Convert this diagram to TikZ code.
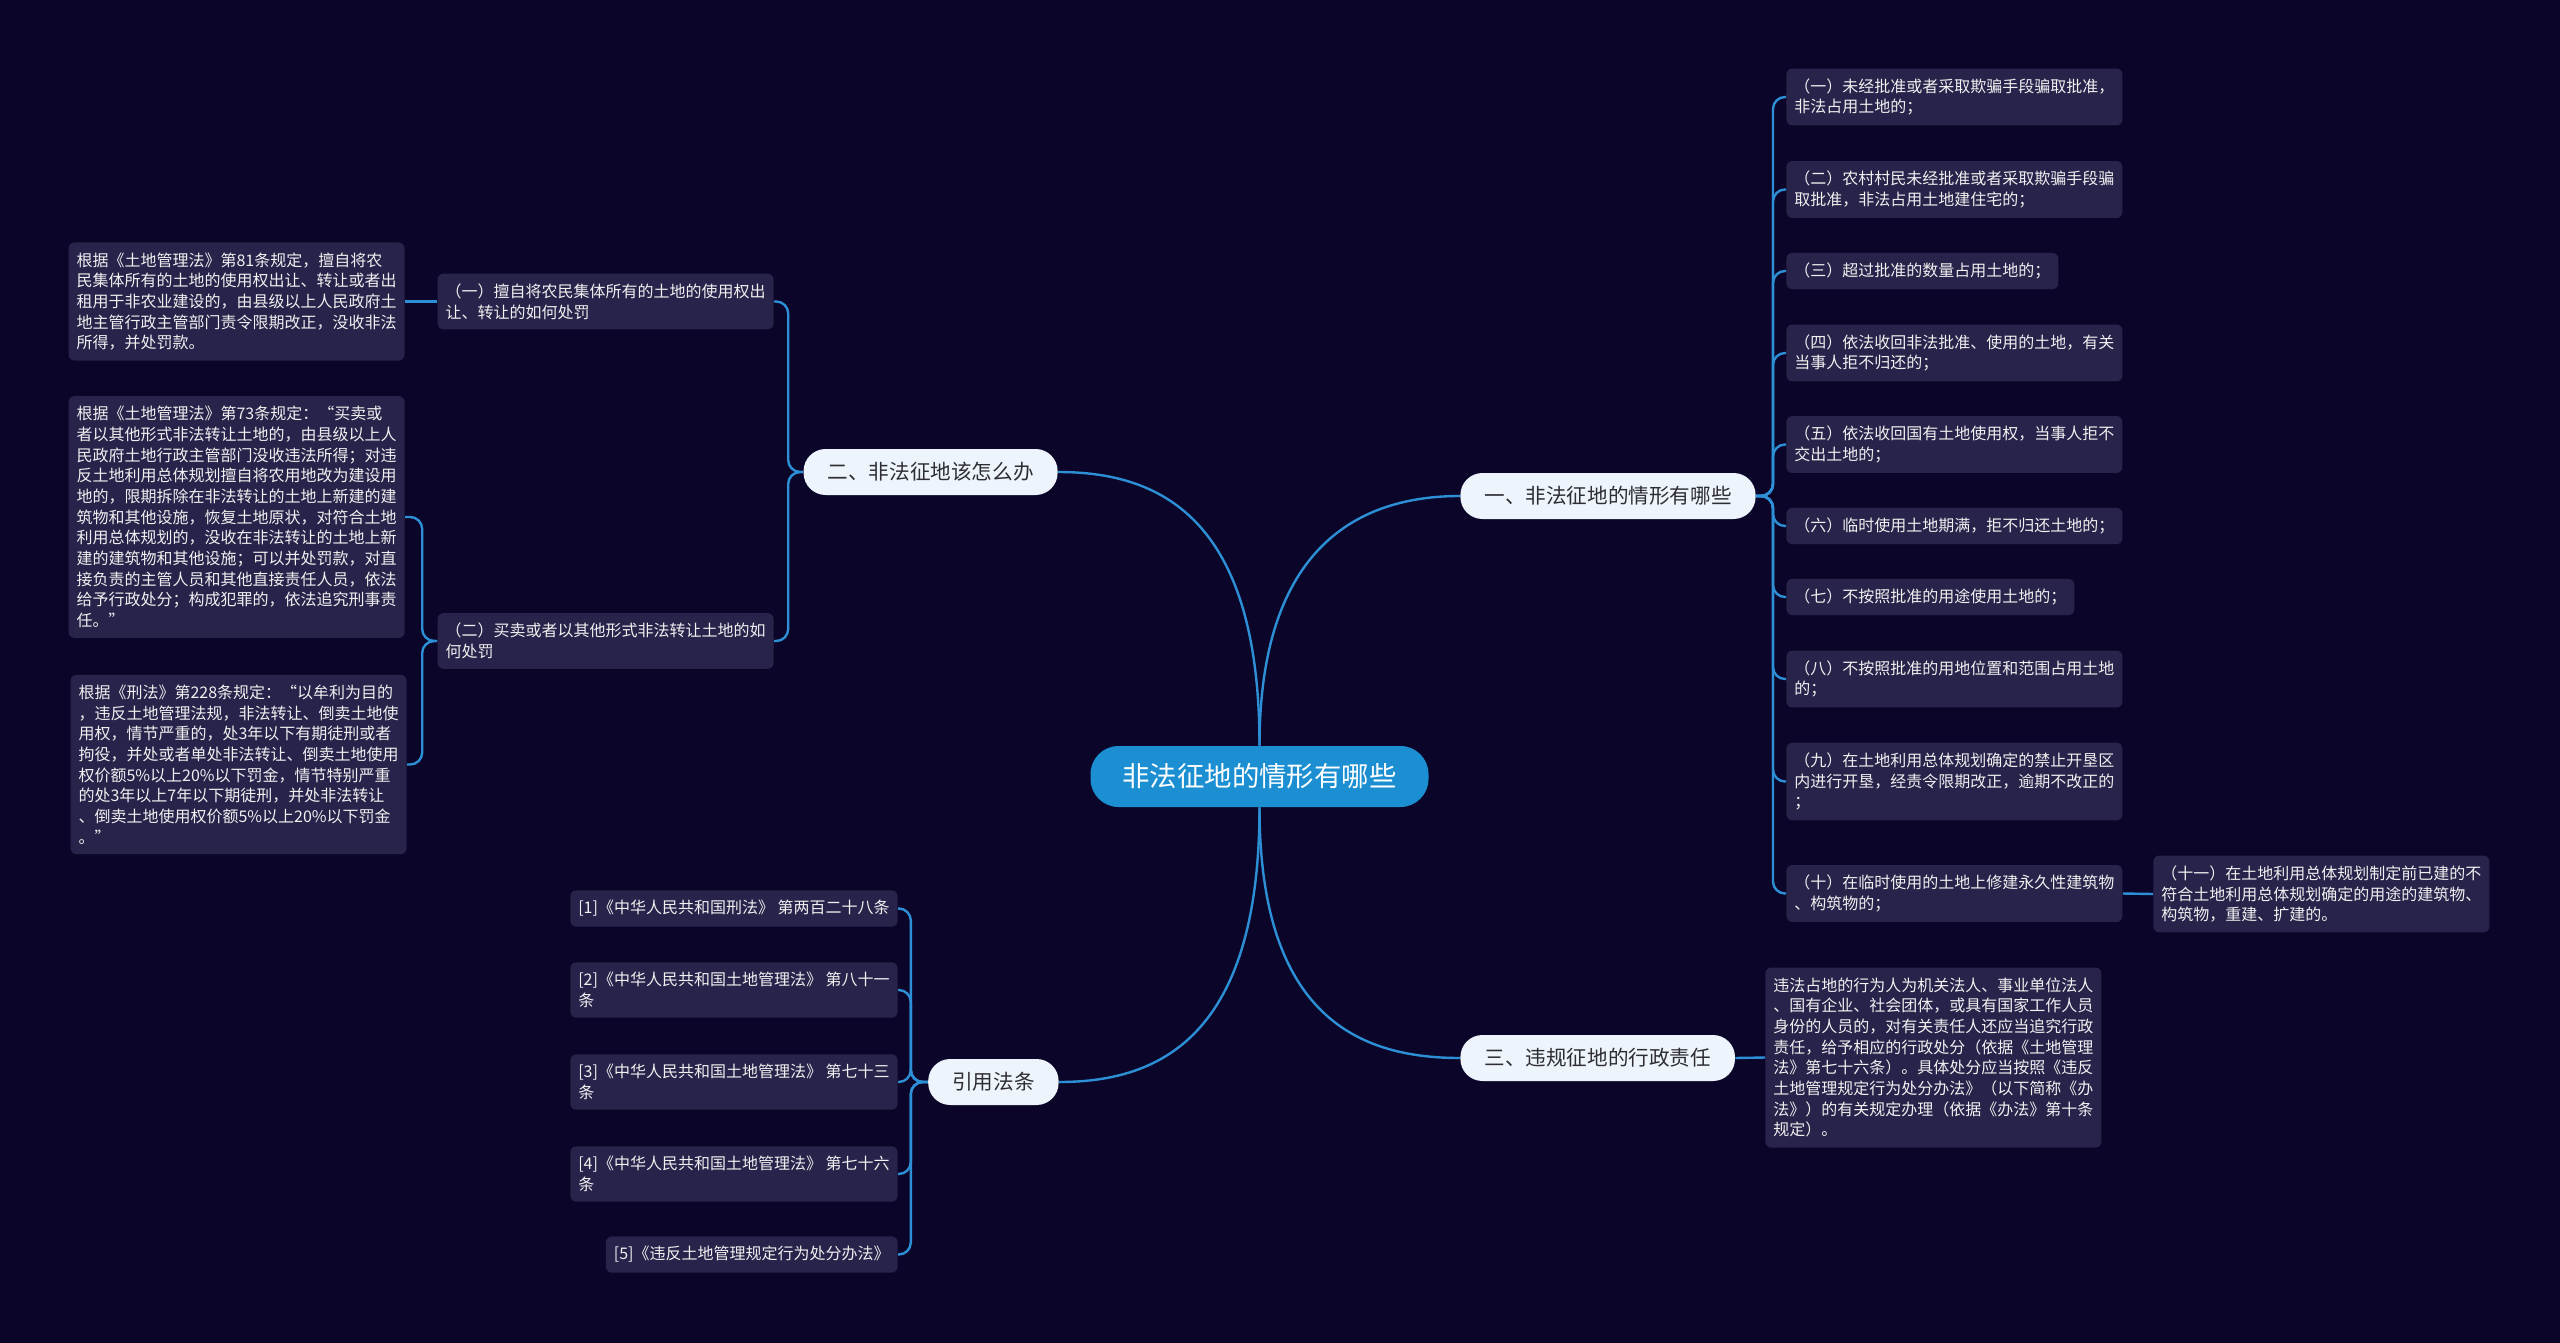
\documentclass[tikz,border=0pt]{standalone}
\usepackage{fontspec}
\setmainfont{Noto Sans CJK SC}
\usepackage{tikz}
\usetikzlibrary{positioning}
\definecolor{mapbg}{RGB}{11,6,41}
\definecolor{leaffill}{RGB}{39,35,74}
\definecolor{linkblue}{RGB}{45,143,213}
\definecolor{rootblue}{RGB}{27,143,210}
\definecolor{branchfill}{RGB}{238,244,252}
\definecolor{branchtext}{RGB}{45,45,50}
\tikzset{
  rootnode/.style={fill=rootblue, text=white, rounded corners=14pt,
    inner xsep=16pt, inner ysep=6pt, minimum height=30.5pt,
    font=\fontsize{13.7pt}{16pt}\selectfont},
  branchnode/.style={fill=branchfill, text=branchtext, rounded corners=11pt,
    inner xsep=12pt, inner ysep=5pt, minimum height=23pt,
    font=\fontsize{10.3pt}{12pt}\selectfont},
  leafnode/.style={fill=leaffill, text=white!94!black, rounded corners=3pt,
    inner xsep=4pt, inner ysep=5pt, align=left,
    font=\fontsize{8pt}{10.35pt}\selectfont},
  link/.style={draw=linkblue, line width=1.2pt, rounded corners=6pt},
}

\begin{document}
\begin{tikzpicture}[x=0.5pt, y=-0.5pt]
  \fill[mapbg] (0,0) rectangle (2560,1343);
  \useasboundingbox (0,0) rectangle (2560,1343);

  % centre and main branches
  \node[rootnode] (root) at (1259.5,776.5) {非法征地的情形有哪些};
  \node[branchnode, anchor=west] (b1) at (1460,496) {一、非法征地的情形有哪些};
  \node[branchnode, anchor=east] (b2) at (1058,472) {二、非法征地该怎么办};
  \node[branchnode, anchor=west] (b3) at (1460,1058) {三、违规征地的行政责任};
  \node[branchnode, anchor=east] (b4) at (1059,1082) {引用法条};

  % branch one
  \node[leafnode, anchor=west] (r1) at (1786,97) {（一）未经批准或者采取欺骗手段骗取批准，\\非法占用土地的；};
  \node[leafnode, anchor=west] (r2) at (1786,189.5) {（二）农村村民未经批准或者采取欺骗手段骗\\取批准，非法占用土地建住宅的；};
  \node[leafnode, anchor=west] (r3) at (1786,271) {（三）超过批准的数量占用土地的；};
  \node[leafnode, anchor=west] (r4) at (1786,353) {（四）依法收回非法批准、使用的土地，有关\\当事人拒不归还的；};
  \node[leafnode, anchor=west] (r5) at (1786,444.5) {（五）依法收回国有土地使用权，当事人拒不\\交出土地的；};
  \node[leafnode, anchor=west] (r6) at (1786,526) {（六）临时使用土地期满，拒不归还土地的；};
  \node[leafnode, anchor=west] (r7) at (1786,597) {（七）不按照批准的用途使用土地的；};
  \node[leafnode, anchor=west] (r8) at (1786,679) {（八）不按照批准的用地位置和范围占用土地\\的；};
  \node[leafnode, anchor=west] (r9) at (1786,781.5) {（九）在土地利用总体规划确定的禁止开垦区\\内进行开垦，经责令限期改正，逾期不改正的\\；};
  \node[leafnode, anchor=west] (r10) at (1786,893.5) {（十）在临时使用的土地上修建永久性建筑物\\、构筑物的；};
  \node[leafnode, anchor=west] (r11) at (2153,894) {（十一）在土地利用总体规划制定前已建的不\\符合土地利用总体规划确定的用途的建筑物、\\构筑物，重建、扩建的。};

  % branch two
  \node[leafnode, anchor=east] (l1) at (774,301.5) {（一）擅自将农民集体所有的土地的使用权出\\让、转让的如何处罚};
  \node[leafnode, anchor=east] (l2) at (774,641) {（二）买卖或者以其他形式非法转让土地的如\\何处罚};
  \node[leafnode, anchor=east] (l1a) at (405,301.5) {根据《土地管理法》第81条规定，擅自将农\\民集体所有的土地的使用权出让、转让或者出\\租用于非农业建设的，由县级以上人民政府土\\地主管行政主管部门责令限期改正，没收非法\\所得，并处罚款。};
  \node[leafnode, anchor=east] (l2a) at (405,517) {根据《土地管理法》第73条规定：“买卖或\\者以其他形式非法转让土地的，由县级以上人\\民政府土地行政主管部门没收违法所得；对违\\反土地利用总体规划擅自将农用地改为建设用\\地的，限期拆除在非法转让的土地上新建的建\\筑物和其他设施，恢复土地原状，对符合土地\\利用总体规划的，没收在非法转让的土地上新\\建的建筑物和其他设施；可以并处罚款，对直\\接负责的主管人员和其他直接责任人员，依法\\给予行政处分；构成犯罪的，依法追究刑事责\\任。”};
  \node[leafnode, anchor=east] (l2b) at (407,764.5) {根据《刑法》第228条规定：“以牟利为目的\\，违反土地管理法规，非法转让、倒卖土地使\\用权，情节严重的，处3年以下有期徒刑或者\\拘役，并处或者单处非法转让、倒卖土地使用\\权价额5\%以上20\%以下罚金，情节特别严重\\的处3年以上7年以下期徒刑，并处非法转让\\、倒卖土地使用权价额5\%以上20\%以下罚金\\。”};

  % branch three
  \node[leafnode, anchor=west] (b3a) at (1765,1057.5) {违法占地的行为人为机关法人、事业单位法人\\、国有企业、社会团体，或具有国家工作人员\\身份的人员的，对有关责任人还应当追究行政\\责任，给予相应的行政处分（依据《土地管理\\法》第七十六条）。具体处分应当按照《违反\\土地管理规定行为处分办法》（以下简称《办\\法》）的有关规定办理（依据《办法》第十条\\规定）。};

  % cited articles
  \node[leafnode, anchor=east] (f1) at (898,908.5) {[1]《中华人民共和国刑法》 第两百二十八条};
  \node[leafnode, anchor=east] (f2) at (898,990) {[2]《中华人民共和国土地管理法》 第八十一\\条};
  \node[leafnode, anchor=east] (f3) at (898,1082) {[3]《中华人民共和国土地管理法》 第七十三\\条};
  \node[leafnode, anchor=east] (f4) at (898,1174) {[4]《中华人民共和国土地管理法》 第七十六\\条};
  \node[leafnode, anchor=east] (f5) at (898,1254.5) {[5]《违反土地管理规定行为处分办法》};

  % links
  \draw[link] (root.north) .. controls +(0,-230) and +(100,0) .. (b2.east);
  \draw[link] (root.north) .. controls +(0,-200) and +(-100,0) .. (b1.west);
  \draw[link] (root.south) .. controls +(0,230) and +(100,0) .. (b4.east);
  \draw[link] (root.south) .. controls +(0,210) and +(-100,0) .. (b3.west);
  \foreach \i in {1,...,10}
    \draw[link] (b1.east) -- ++(17,0) |- (r\i.west);
  \draw[link] (r10.east) -- (r11.west);
  \draw[link] (b2.west) -- ++(-15,0) |- (l1.east);
  \draw[link] (b2.west) -- ++(-15,0) |- (l2.east);
  \draw[link] (l1.west) -- (l1a.east);
  \draw[link] (l2.west) -- ++(-15,0) |- (l2a.east);
  \draw[link] (l2.west) -- ++(-15,0) |- (l2b.east);
  \draw[link] (b3.east) -- (b3a.west);
  \foreach \i in {1,...,5}
    \draw[link] (b4.west) -- ++(-17,0) |- (f\i.east);
\end{tikzpicture}
\end{document}
